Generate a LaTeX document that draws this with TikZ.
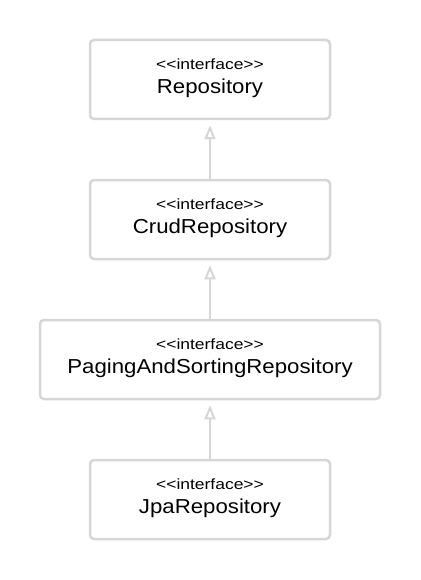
\documentclass[tikz,border=0pt]{standalone}
\usepackage{fontspec}
\setmainfont{Liberation Sans}
\newfontfamily\namefont[FakeStretch=1.1]{Liberation Sans}
\newfontfamily\stfont[FakeStretch=1.18]{Liberation Sans}
\usetikzlibrary{arrows.meta}
\definecolor{edge}{HTML}{D6D6D6}
\tikzset{
  x=1pt, y=-1pt,
  iface/.style={draw=edge, line width=2.5pt, rounded corners=4pt, fill=white, minimum height=79pt},
  stereo/.style={font=\stfont\fontsize{14.8}{17}\selectfont, text=black},
  iname/.style={font=\namefont\fontsize{20.2}{23}\selectfont, text=black},
  realize/.style={draw=edge, line width=2pt, -{Triangle[open, length=14pt, width=11pt, line width=2pt]}, shorten >=5pt}
}
\begin{document}
\begin{tikzpicture}
\useasboundingbox (0,0) rectangle (420,580);
% boxes
\node[iface, minimum width=240pt] (repo) at (210,79.5) {};
\node[iface, minimum width=240pt] (crud) at (210,219.5) {};
\node[iface, minimum width=340pt] (paging) at (210,359.5) {};
\node[iface, minimum width=240pt] (jpa) at (210,499.5) {};
% texts
\node[stereo] (repoS) at (210,64) {<{}<interface>{}>};
\node[iname] (repoN) at (210,88.5) {Repository};
\node[stereo] (crudS) at (210,204) {<{}<interface>{}>};
\node[iname] (crudN) at (210,228.5) {CrudRepository};
\node[stereo] (pagingS) at (210,344) {<{}<interface>{}>};
\node[iname] (pagingN) at (210,368.5) {PagingAndSortingRepository};
\node[stereo] (jpaS) at (210,484) {<{}<interface>{}>};
\node[iname] (jpaN) at (210,508.5) {JpaRepository};
% connectors
\draw[realize] (crud.north) -- (repo.south);
\draw[realize] (paging.north) -- (crud.south);
\draw[realize] (jpa.north) -- (paging.south);
\end{tikzpicture}
\end{document}
